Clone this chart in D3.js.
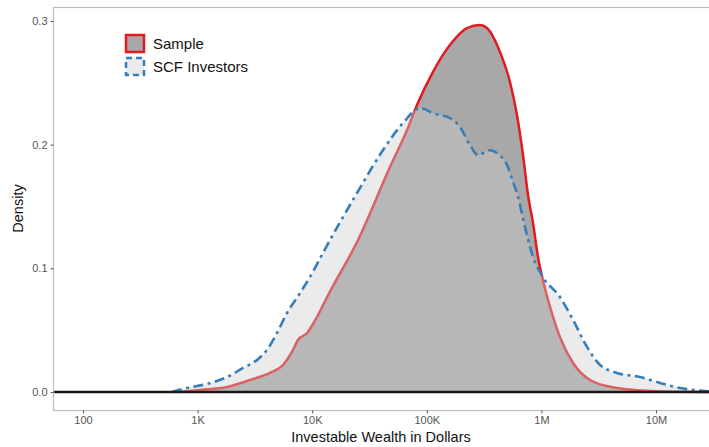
<!DOCTYPE html>
<html><head><meta charset="utf-8">
<script src="https://cdn.jsdelivr.net/npm/d3@7"></script>
<style>body{margin:0;background:#fff}</style>
</head><body><svg id="chart" width="709" height="447"></svg>
<script>
// Investable wealth (dollars) and estimated density
const sampleWealth = [675, 1050, 1810, 2860, 4280, 5560, 6800, 7510, 9020, 11000, 13500, 25100, 47700, 67200, 82100, 113000, 159000, 224000, 291000, 335000, 435000, 532000, 612000, 691000, 764000, 845000, 934000, 1030000, 1190000, 1450000, 1890000, 2660000, 4570000, 8870000, 17200000, 30000000];
const sampleDensity = [0, 0.0016, 0.004, 0.0097, 0.0154, 0.0218, 0.034, 0.042, 0.0477, 0.0606, 0.0768, 0.1229, 0.1819, 0.2118, 0.232, 0.2587, 0.2805, 0.2943, 0.2967, 0.2943, 0.2749, 0.2506, 0.2239, 0.1916, 0.1593, 0.1366, 0.1091, 0.0905, 0.0687, 0.0445, 0.0234, 0.0097, 0.0032, 0.0008, 0.0001, 0];

const scfWealth = [598, 808, 1210, 1810, 2490, 3300, 4030, 4930, 6030, 7830, 9570, 12400, 24600, 41500, 62000, 87300, 113000, 159000, 195000, 238000, 280000, 356000, 418000, 501000, 565000, 612000, 719000, 845000, 1030000, 1450000, 1890000, 2500000, 3250000, 4570000, 7250000, 10800000, 16200000, 26800000, 30000000];
const scfDensity = [0, 0.0032, 0.0065, 0.0121, 0.0194, 0.0259, 0.034, 0.0477, 0.0639, 0.080, 0.093, 0.1124, 0.1609, 0.1956, 0.2175, 0.2296, 0.2255, 0.2215, 0.2142, 0.1997, 0.1915, 0.1955, 0.1925, 0.1835, 0.1698, 0.1609, 0.1334, 0.1091, 0.093, 0.0768, 0.0582, 0.0364, 0.0218, 0.0154, 0.0121, 0.0073, 0.0032, 0.0008, 0.0004];

const seriesNames = ["Sample", "SCF Investors"];
const xTickValues = [100, 1000, 10000, 100000, 1000000, 10000000];
const xTickLabels = ["100", "1K", "10K", "100K", "1M", "10M"];
const yTickValues = [0, 0.1, 0.2, 0.3];
const yTickLabels = ["0.0", "0.1", "0.2", "0.3"];
const xTitle = "Investable Wealth in Dollars";
const yTitle = "Density";

const svg = d3.select("#chart");
const font = "'Liberation Sans', Arial, Helvetica, sans-serif";
const panel = {l: 53, r: 710, t: 7, b: 410};

const x = d3.scaleLog().domain([Math.pow(10, 2 - 30 / 114.6), Math.pow(10, 2 + 627 / 114.6)]).range([panel.l, panel.r]);
const y = d3.scaleLinear().domain([-0.0146, 0.3113]).range([panel.b, panel.t]);

svg.append("defs").append("clipPath").attr("id", "clip")
  .append("rect").attr("x", panel.l).attr("y", panel.t).attr("width", panel.r - panel.l).attr("height", panel.b - panel.t);

const sampleData = sampleWealth.map((w, i) => ({w, d: sampleDensity[i]}));
const scfData = scfWealth.map((w, i) => ({w, d: scfDensity[i]}));

const area = d3.area().x(p => x(p.w)).y0(y(0)).y1(p => y(p.d)).curve(d3.curveMonotoneX);
const line = d3.line().x(p => x(p.w)).y(p => y(p.d)).curve(d3.curveMonotoneX);

const g = svg.append("g").attr("clip-path", "url(#clip)");
const red = "#e41a1c", blue = "#377eb8";

g.append("path").datum(sampleData).attr("d", area).attr("fill", "#a8a8a8");
g.append("path").datum(sampleData).attr("d", line).attr("fill", "none").attr("stroke", red).attr("stroke-width", 2.5).attr("stroke-linejoin", "round");
g.append("path").datum(scfData).attr("d", area).attr("fill", "#cccccc").attr("fill-opacity", 0.4);
g.append("path").datum(scfData).attr("d", line).attr("fill", "none").attr("stroke", blue).attr("stroke-width", 2.6)
  .attr("stroke-dasharray", "10,4.5,3,4.5").attr("stroke-linejoin", "round");

// zero line
g.append("line").attr("x1", panel.l).attr("x2", panel.r).attr("y1", y(0)).attr("y2", y(0))
  .attr("stroke", "#1a1a1a").attr("stroke-width", 2.4);

// panel border
svg.append("rect").attr("x", panel.l + 0.5).attr("y", panel.t + 0.5).attr("width", panel.r - panel.l).attr("height", panel.b - panel.t)
  .attr("fill", "none").attr("stroke", "#bdbdbd").attr("stroke-width", 1.2);

// axes
const xAxis = d3.axisBottom(x).tickValues(xTickValues).tickFormat((d, i) => xTickLabels[i]).tickSize(3).tickPadding(3);
const xg = svg.append("g").attr("transform", `translate(0,${panel.b + 0.5})`).call(xAxis);
xg.select(".domain").remove();
xg.selectAll(".tick line").attr("stroke", "#555");
xg.selectAll(".tick text").attr("fill", "#555").attr("font-size", 11).attr("font-family", font);

const yAxis = d3.axisLeft(y).tickValues(yTickValues).tickFormat((d, i) => yTickLabels[i]).tickSize(3).tickPadding(3);
const yg = svg.append("g").attr("transform", `translate(${panel.l + 0.5},0)`).call(yAxis);
yg.select(".domain").remove();
yg.selectAll(".tick line").attr("stroke", "#555");
yg.selectAll(".tick text").attr("fill", "#555").attr("font-size", 11).attr("font-family", font);

svg.append("text").attr("x", (panel.l + 709) / 2).attr("y", 442).attr("text-anchor", "middle")
  .attr("font-family", font).attr("font-size", 14.5).attr("fill", "#111").text(xTitle);
svg.append("text").attr("transform", `translate(23,${(panel.t + panel.b) / 2}) rotate(-90)`).attr("text-anchor", "middle")
  .attr("font-family", font).attr("font-size", 14.5).attr("fill", "#111").text(yTitle);

// legend
const leg = svg.append("g");
const keys = [
  {name: seriesNames[0], fill: "#a8a8a8", stroke: red, dash: null},
  {name: seriesNames[1], fill: "#ebebeb", stroke: blue, dash: "6,4"}
];
keys.forEach((k, i) => {
  const yy = 35 + i * 23;
  leg.append("rect").attr("x", 126).attr("y", yy).attr("width", 18).attr("height", 17)
    .attr("fill", k.fill).attr("stroke", k.stroke).attr("stroke-width", 2.5)
    .attr("stroke-dasharray", k.dash);
  leg.append("text").attr("x", 153).attr("y", yy + 14).attr("font-family", font).attr("font-size", 15)
    .attr("fill", "#111").text(k.name);
});
</script>
</body></html>
